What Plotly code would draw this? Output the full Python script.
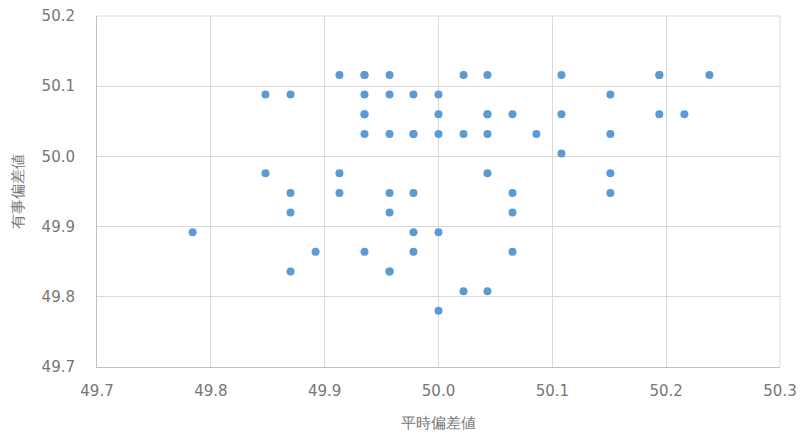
import plotly.graph_objects as go

# 平時偏差値 (x) and 有事偏差値 (y)
x_vals = [
    49.784,
    49.848, 49.848,
    49.870, 49.870, 49.870, 49.870,
    49.892,
    49.913, 49.913, 49.913,
    49.935, 49.935, 49.935, 49.935, 49.935, 49.935, 49.935,
    49.957, 49.957, 49.957, 49.957, 49.957, 49.957, 49.957,
    49.978, 49.978, 49.978, 49.978, 49.978, 49.978,
    50.000, 50.000, 50.000, 50.000, 50.000,
    50.022, 50.022, 50.022,
    50.043, 50.043, 50.043, 50.043, 50.043, 50.043,
    50.065, 50.065, 50.065, 50.065,
    50.086,
    50.108, 50.108, 50.108,
    50.151, 50.151, 50.151, 50.151,
    50.194, 50.194, 50.194,
    50.216,
    50.238,
]
y_vals = [
    49.892,
    50.088, 49.976,
    50.088, 49.948, 49.920, 49.836,
    49.864,
    50.116, 49.976, 49.948,
    50.116, 50.116, 50.088, 50.060, 50.060, 50.032, 49.864,
    50.116, 50.088, 50.032, 49.948, 49.920, 49.836, 49.836,
    50.088, 50.032, 50.032, 49.948, 49.892, 49.864,
    50.088, 50.060, 50.032, 49.892, 49.780,
    50.116, 50.032, 49.808,
    50.116, 50.060, 50.060, 50.032, 49.976, 49.808,
    50.060, 49.948, 49.920, 49.864,
    50.032,
    50.116, 50.060, 50.004,
    50.088, 50.032, 49.976, 49.948,
    50.116, 50.116, 50.060,
    50.060,
    50.116,
]

x_range = [49.7, 50.3]
y_range = [49.7, 50.2]
x_title = "平時偏差値"
y_title = "有事偏差値"

FONT = "DejaVu Sans, Verdana, sans-serif"
GRID = "#D9D9D9"
AXIS = "#BFBFBF"
TXT = "#767676"

fig = go.Figure(go.Scatter(
    x=x_vals, y=y_vals, mode="markers",
    marker=dict(color="#5B9BD5", size=8, line=dict(width=0)),
    hoverinfo="x+y",
))

fig.update_layout(
    width=800, height=436,
    margin=dict(l=97, r=20, t=16, b=69),
    paper_bgcolor="white", plot_bgcolor="white",
    showlegend=False,
    font=dict(family=FONT, color=TXT, size=15),
    xaxis=dict(
        range=x_range, dtick=0.1, tick0=49.7, tickformat=".1f",
        automargin=False,
        showgrid=True, gridcolor=GRID, gridwidth=1,
        showline=True, linecolor=AXIS, linewidth=1,
        zeroline=False, ticks="", ticklabelstandoff=10,
        tickfont=dict(family=FONT, size=15, color=TXT),
        title=dict(text=x_title, font=dict(family=FONT, size=15, color=TXT), standoff=18),
    ),
    yaxis=dict(
        range=y_range, dtick=0.1, tick0=49.7, tickformat=".1f",
        automargin=False,
        showgrid=True, gridcolor=GRID, gridwidth=1,
        showline=True, linecolor=AXIS, linewidth=1,
        zeroline=False, ticks="", ticklabelstandoff=18,
        tickfont=dict(family=FONT, size=15, color=TXT),
        title=dict(text=y_title, font=dict(family=FONT, size=15, color=TXT), standoff=14),
    ),
    shapes=[
        dict(type="line", xref="paper", yref="paper", x0=0, x1=1, y0=1, y1=1,
             line=dict(color=GRID, width=1), layer="below"),
        dict(type="line", xref="paper", yref="paper", x0=1, x1=1, y0=0, y1=1,
             line=dict(color=GRID, width=1), layer="below"),
    ],
)

fig.write_html("out.html")
